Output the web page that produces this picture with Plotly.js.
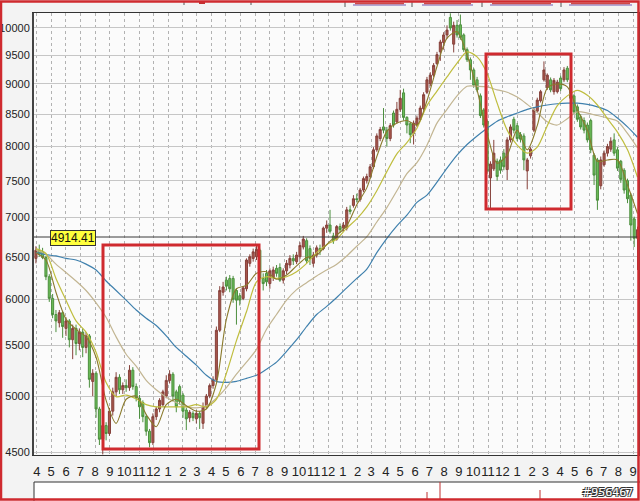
<!DOCTYPE html>
<html>
<head>
<meta charset="utf-8">
<script src="https://cdn.plot.ly/plotly-3.0.1.min.js"></script>
<style>
  html, body { margin: 0; padding: 0; background: #f3f3f3; }
  #chart { width: 640px; height: 501px; }
</style>
</head>
<body>
<div id="chart"></div>
<script>
// Weekly index candles, first week ending 1995-03-30, one bar per week
const firstWeek = '1995-03-30';

const weekOpen = [
  6480,6580,6560,6490,6260,6010,5830,5740,5850,5680,
  5760,5560,5680,5520,5640,5480,5600,5140,5220,4880,
  4610,4730,4660,4860,5040,5180,5060,5100,5080,5250,
  5090,4980,4940,4810,4680,4580,4810,4880,4920,5000,
  5150,5210,5040,5090,5010,4870,4800,4840,4790,4840,
  4750,4900,5000,5100,5160,5660,6080,6220,6240,6240,
  6100,6040,6010,6120,6420,6480,6500,6580,6240,6300,
  6180,6250,6360,6370,6220,6330,6400,6480,6440,6500,
  6620,6700,6600,6420,6520,6600,6600,6860,6900,6760,
  6720,6880,6860,6860,7100,7160,7250,7240,7370,7500,
  7560,7700,7950,8120,8300,8250,8120,8520,8380,8580,
  8850,8450,8350,8200,8330,8420,8590,8860,9000,9150,
  9350,9560,9730,9870,10200,9700,10050,10060,9870,9600,
  9420,9240,9070,8800,8570,8390,7540,7670,7780,7800,
  7900,7660,8100,8420,8320,8180,8160,7640,7860,8250,
  8550,8720,9070,8940,9070,8870,8870,9100,9070,9270,
  9020,8800,8620,8460,8400,8330,8400,7870,7800,7430,
  7730,7900,7960,8100,7950,7780,7650,7500,7300,6980,
  6730
];
const weekHigh = [
  6630,6650,6610,6510,6290,6060,5880,5880,5870,5800,
  5780,5720,5720,5680,5680,5640,5620,5260,5240,4900,
  4770,4760,4890,5080,5230,5210,5130,5160,5300,5280,
  5120,5010,4960,4830,4700,4840,4900,4980,5060,5200,
  5250,5230,5060,5110,5030,4890,4870,4860,4870,4860,
  4940,5020,5120,5190,5700,6150,6200,6260,6280,6270,
  6120,6070,6150,6480,6530,6600,6650,6600,6300,6340,
  6360,6380,6400,6420,6360,6460,6520,6530,6560,6680,
  6760,6730,6640,6560,6640,6650,6880,6960,7100,6800,
  6900,6920,6940,7140,7160,7300,7320,7400,7560,7600,
  7740,7990,8200,8300,8600,8300,8360,8560,8700,8900,
  8920,8470,8380,8400,8480,8640,8860,9120,9200,9360,
  9560,9780,9920,10050,10280,10120,10150,10256,9900,9640,
  9460,9270,9120,8840,8600,8420,7780,8100,7820,7850,
  7960,8140,8340,8460,8360,8220,8200,7830,7990,8610,
  8770,8900,9390,9180,9110,9100,9070,9140,9290,9310,
  9060,8830,8660,8500,8450,8370,8430,7900,7830,7850,
  7940,8040,8140,8200,7990,7800,7680,7530,7330,7010,
  6880
];
const weekLow = [
  6420,6500,6470,6220,5970,5790,5640,5690,5580,5600,
  5480,5360,5400,5450,5380,5420,5080,5000,4800,4560,
  4480,4600,4640,4820,5000,5020,5020,5040,5050,5060,
  4950,4790,4760,4640,4540,4560,4780,4850,4900,4980,
  5120,4950,4850,4920,4800,4690,4760,4770,4750,4700,
  4700,4880,4980,5070,5140,5640,6040,6100,6080,5960,
  5720,5930,5990,6090,6380,6440,6460,6200,6100,6150,
  6120,6210,6260,6200,6180,6290,6360,6400,6410,6470,
  6590,6420,6400,6380,6490,6520,6580,6800,6790,6660,
  6700,6800,6820,6830,7040,7130,7200,7210,7340,7460,
  7530,7670,7920,8080,8200,8000,8080,8290,8350,8540,
  8400,8200,8050,8030,8300,8390,8560,8830,8960,9120,
  9330,9400,9600,9800,9950,9550,9820,9780,9560,9380,
  9070,8940,8860,8440,8290,7600,7100,7640,7500,7600,
  7650,7510,8060,8200,8080,8060,7650,7380,7820,8220,
  8520,8690,9040,8900,8860,8820,8840,8880,9030,9030,
  8720,8500,8380,8260,8200,8060,7900,7440,7100,7380,
  7700,7850,7920,7860,7640,7470,7320,7190,6700,6620,
  6340
];
const weekClose = [
  6580,6530,6490,6260,6010,5830,5760,5850,5700,5760,
  5560,5680,5520,5640,5480,5600,5160,5220,4880,4610,
  4730,4660,4860,5040,5180,5060,5100,5080,5250,5090,
  4980,4900,4810,4680,4580,4810,4880,4960,5040,5150,
  5210,5000,4900,4950,4860,4790,4850,4800,4840,4800,
  4900,5000,5100,5160,5660,6100,6140,6150,6120,6000,
  5990,5990,6130,6460,6500,6560,6590,6240,6180,6200,
  6330,6340,6300,6220,6330,6420,6480,6450,6520,6640,
  6720,6450,6480,6520,6610,6580,6860,6900,6820,6700,
  6880,6840,6900,7100,7080,7250,7240,7370,7530,7560,
  7700,7950,8160,8260,8250,8120,8320,8330,8580,8760,
  8450,8330,8180,8360,8440,8600,8820,9070,9150,9320,
  9510,9740,9870,9960,10000,10050,9870,9820,9600,9420,
  9240,8980,8900,8480,8330,7640,7740,7900,7560,7650,
  7700,8100,8300,8250,8120,8110,7800,7800,7960,8570,
  8730,8870,9240,9150,8900,9060,9030,8920,9240,9070,
  8760,8540,8420,8300,8250,8100,7950,7580,7230,7800,
  7900,8000,8080,7900,7680,7520,7370,7250,6900,6730,
  6840
];

// Moving-average lines, one reading every third week
const maStep = 3;
const ma5 = [
  6550,6460,6080,5780,5670,5590,5380,4960,4750,4970,
  5000,4830,4720,4920,4970,4910,4860,4880,5120,5780,
  6120,6160,6300,6320,6230,6280,6390,6490,6520,6650,
  6770,6890,7170,7400,7850,8230,8360,8400,8330,8720,
  9300,9810,9930,9500,8900,8200,7750,7870,8250,7950,
  8320,8930,9000,8950,8570,8250,7780,7800,7800,7440,
  7050
];
const ma10 = [
  6600,6540,6240,5990,5760,5640,5430,5130,4995,5010,
  4975,4920,4900,4900,4900,4900,4920,4900,4970,5220,
  5550,5860,6200,6260,6240,6260,6320,6420,6550,6650,
  6720,6860,6980,7140,7360,7630,7890,8060,8280,8640,
  8880,9120,9360,9560,9470,9180,8680,8250,8020,7900,
  7990,8320,8640,8800,8890,8810,8650,8430,8220,7950,
  7550
];
const ma26 = [
  6583,6530,6410,6310,6210,6100,5960,5800,5590,5410,
  5290,5150,5060,4990,4940,4900,4890,4910,4980,5080,
  5210,5330,5460,5670,5830,5990,6110,6190,6270,6340,
  6410,6510,6630,6750,6940,7130,7360,7600,7760,8020,
  8360,8580,8800,8960,8960,8950,8900,8860,8780,8660,
  8530,8380,8330,8430,8540,8520,8480,8440,8390,8200,
  7980
];
const ma52 = [
  6550,6525,6510,6480,6460,6410,6340,6210,6100,5990,
  5880,5790,5710,5600,5480,5390,5300,5200,5140,5130,
  5140,5170,5200,5260,5330,5440,5560,5700,5830,5920,
  6020,6130,6240,6350,6550,6730,6890,7030,7200,7300,
  7480,7680,7870,8030,8160,8280,8390,8460,8520,8580,
  8620,8650,8670,8680,8680,8660,8620,8560,8440,8300,
  8140
];

// Month ticks along the bottom
const monthTickDates = [
  '1995-04-01','1995-05-01','1995-06-01','1995-07-01','1995-08-01','1995-09-01',
  '1995-10-01','1995-11-01','1995-12-01',
  '1996-01-01','1996-02-01','1996-03-01','1996-04-01','1996-05-01','1996-06-01',
  '1996-07-01','1996-08-01','1996-09-01','1996-10-01','1996-11-01','1996-12-01',
  '1997-01-01','1997-02-01','1997-03-01','1997-04-01','1997-05-01','1997-06-01',
  '1997-07-01','1997-08-01','1997-09-01','1997-10-01','1997-11-01','1997-12-01',
  '1998-01-01','1998-02-01','1998-03-01','1998-04-01','1998-05-01','1998-06-01',
  '1998-07-01','1998-08-01','1998-09-01'
];
const monthTickText = [
  '4','5','6','7','8','9','10','11','12',
  '1','2','3','4','5','6','7','8','9','10','11','12',
  '1','2','3','4','5','6','7','8','9','10','11','12',
  '1','2','3','4','5','6','7','8','9'
];

const priceTicks = [4500,5000,5500,6000,6500,7000,7500,8000,8500,9000,9500,10000];
const priceTickText = ['4500','5000','5500','6000','6500','7000','7500','8000','8500','9000','9500','10000'];

const markerPrice = '4914.41';

// calendar of week dates
function weekDates(start, n) {
  const out = [];
  const t0 = Date.parse(start + 'T00:00:00Z');
  for (let i = 0; i < n; i++) {
    out.push(new Date(t0 + i * 7 * 86400000).toISOString().slice(0, 10));
  }
  return out;
}
const weeks = weekDates(firstWeek, weekClose.length);
const maWeeks = weeks.filter((d, i) => i % maStep === 0);

const FONT = 'Liberation Sans, Arial, sans-serif';

const traces = [
  {
    type: 'candlestick',
    x: weeks, open: weekOpen, high: weekHigh, low: weekLow, close: weekClose,
    increasing: { line: { color: '#85403a', width: 1 }, fillcolor: '#a9564c' },
    decreasing: { line: { color: '#4c8f3e', width: 1 }, fillcolor: '#6cbd58' },
    whiskerwidth: 0,
    hoverinfo: 'skip'
  },
  { type: 'scatter', mode: 'lines', x: maWeeks, y: ma52,
    line: { color: '#3f80ad', width: 1.2, shape: 'spline', smoothing: 0.8 }, hoverinfo: 'skip' },
  { type: 'scatter', mode: 'lines', x: maWeeks, y: ma26,
    line: { color: '#c2b592', width: 1.2, shape: 'spline', smoothing: 0.8 }, hoverinfo: 'skip' },
  { type: 'scatter', mode: 'lines', x: maWeeks, y: ma10,
    line: { color: '#bfbd3e', width: 1.2, shape: 'spline', smoothing: 0.8 }, hoverinfo: 'skip' },
  { type: 'scatter', mode: 'lines', x: maWeeks, y: ma5,
    line: { color: '#8a7a2c', width: 1.1, shape: 'spline', smoothing: 0.8 }, hoverinfo: 'skip' }
];

// helpers for paper-space decoration (plot area 34..638 x 13..455 px)
const PX = px => (px - 34) / 604;
const PY = py => (455 - py) / 442;

const RED = '#cf2a2f';
const shapes = [
  // price cursor line
  { type: 'line', xref: 'paper', yref: 'paper', x0: 0, x1: 1, y0: PY(237), y1: PY(237),
    line: { color: '#3a3a3a', width: 1 } },
  // highlighted ranges
  { type: 'rect', xref: 'paper', yref: 'paper', x0: PX(103), x1: PX(259), y0: PY(449), y1: PY(245),
    line: { color: RED, width: 3 } },
  { type: 'rect', xref: 'paper', yref: 'paper', x0: PX(486), x1: PX(571), y0: PY(209), y1: PY(54),
    line: { color: RED, width: 3 } },
  // lower pane
  { type: 'rect', xref: 'paper', yref: 'paper', x0: 0, x1: PX(641), y0: PY(503), y1: PY(482),
    fillcolor: '#ffffff', line: { width: 0 }, layer: 'below' },
  { type: 'line', xref: 'paper', yref: 'paper', x0: 0, x1: PX(641), y0: PY(482), y1: PY(482),
    line: { color: '#333333', width: 1 } },
  { type: 'line', xref: 'paper', yref: 'paper', x0: 0, x1: 0, y0: PY(482), y1: PY(503),
    line: { color: '#333333', width: 1 } },
  { type: 'line', xref: 'paper', yref: 'paper', x0: PX(440), x1: PX(440), y0: PY(482), y1: PY(500),
    line: { color: '#c03030', width: 1 } },
  { type: 'line', xref: 'paper', yref: 'paper', x0: PX(427), x1: PX(427), y0: PY(492), y1: PY(500),
    line: { color: '#c03030', width: 1 } },
  { type: 'line', xref: 'paper', yref: 'paper', x0: PX(540), x1: PX(540), y0: PY(490), y1: PY(500),
    line: { color: '#c03030', width: 1 } },
  // header strip
  { type: 'line', xref: 'paper', yref: 'paper', x0: PX(353), x1: PX(406), y0: PY(5), y1: PY(5), line: { color: '#9c8cc8', width: 1.5 } },
  { type: 'line', xref: 'paper', yref: 'paper', x0: PX(422), x1: PX(473), y0: PY(5), y1: PY(5), line: { color: '#9c8cc8', width: 1.5 } },
  { type: 'line', xref: 'paper', yref: 'paper', x0: PX(490), x1: PX(553), y0: PY(5), y1: PY(5), line: { color: '#9c8cc8', width: 1.5 } },
  { type: 'line', xref: 'paper', yref: 'paper', x0: PX(569), x1: PX(632), y0: PY(5), y1: PY(5), line: { color: '#9c8cc8', width: 1.5 } },
  { type: 'line', xref: 'paper', yref: 'paper', x0: PX(355), x1: PX(404), y0: PY(3.5), y1: PY(3.5), line: { color: '#d04848', width: 1.5 } },
  { type: 'line', xref: 'paper', yref: 'paper', x0: PX(424), x1: PX(471), y0: PY(3.5), y1: PY(3.5), line: { color: '#d04848', width: 1.5 } },
  { type: 'line', xref: 'paper', yref: 'paper', x0: PX(492), x1: PX(551), y0: PY(3.5), y1: PY(3.5), line: { color: '#d04848', width: 1.5 } },
  { type: 'line', xref: 'paper', yref: 'paper', x0: PX(571), x1: PX(630), y0: PY(3.5), y1: PY(3.5), line: { color: '#d04848', width: 1.5 } },
  { type: 'line', xref: 'paper', yref: 'paper', x0: PX(345), x1: PX(345), y0: PY(1), y1: PY(7), line: { color: '#555', width: 1 } },
  { type: 'line', xref: 'paper', yref: 'paper', x0: PX(412), x1: PX(412), y0: PY(1), y1: PY(7), line: { color: '#555', width: 1 } },
  { type: 'line', xref: 'paper', yref: 'paper', x0: PX(482), x1: PX(482), y0: PY(1), y1: PY(7), line: { color: '#555', width: 1 } },
  { type: 'line', xref: 'paper', yref: 'paper', x0: PX(561), x1: PX(561), y0: PY(1), y1: PY(7), line: { color: '#555', width: 1 } },
  { type: 'line', xref: 'paper', yref: 'paper', x0: PX(184), x1: PX(184), y0: PY(1), y1: PY(5), line: { color: '#555', width: 1 } },
  { type: 'line', xref: 'paper', yref: 'paper', x0: PX(251), x1: PX(251), y0: PY(1), y1: PY(5), line: { color: '#555', width: 1 } },
  { type: 'line', xref: 'paper', yref: 'paper', x0: PX(199), x1: PX(205), y0: PY(2.5), y1: PY(2.5), line: { color: '#c03030', width: 3 } },
  // outer frame
  { type: 'rect', xref: 'paper', yref: 'paper', x0: PX(1), x1: PX(638.5), y0: PY(499.5), y1: PY(1.5),
    line: { color: RED, width: 2.5 } }
];

const annotations = [
  { xref: 'paper', yref: 'paper', x: PX(72.5), y: PY(237.5), xanchor: 'center', yanchor: 'middle',
    text: markerPrice, showarrow: false,
    bgcolor: '#ffff3c', bordercolor: '#333333', borderwidth: 1, borderpad: 0,
    font: { family: FONT, size: 12, color: '#111111' } },
  { xref: 'paper', yref: 'paper', x: PX(635), y: PY(493), xanchor: 'right', yanchor: 'middle',
    text: '#956467', showarrow: false,
    font: { family: 'DejaVu Sans, Arial', size: 11, color: '#ffffff',
            shadow: '1px 1px 0 #333, -1px -1px 0 #333, 1px -1px 0 #333, -1px 1px 0 #333' } }
];

const layout = {
  width: 640, height: 501,
  margin: { l: 34, r: 2, t: 13, b: 46, pad: 0 },
  paper_bgcolor: '#f3f3f3',
  plot_bgcolor: '#fbfbfb',
  showlegend: false,
  boxgap: 0.12,
  font: { family: FONT, color: '#222222' },
  xaxis: {
    type: 'date',
    range: ['1995-03-26', '1998-09-11'],
    tickmode: 'array', tickvals: monthTickDates, ticktext: monthTickText,
    tickangle: 0,
    ticks: '', ticklabelstandoff: 4,
    tickfont: { family: FONT, size: 13, color: '#222222' },
    showgrid: true, gridcolor: '#b2b2b2', griddash: 'dot', gridwidth: 1,
    showline: true, linecolor: '#333333', linewidth: 1, mirror: true,
    zeroline: false,
    rangeslider: { visible: false },
    fixedrange: true
  },
  yaxis: {
    type: 'log',
    range: [Math.log10(4475), Math.log10(10286)],
    tickmode: 'array', tickvals: priceTicks, ticktext: priceTickText,
    ticks: '', ticklabelstandoff: 0,
    tickfont: { family: FONT, size: 11, color: '#222222' },
    showgrid: true, gridcolor: '#c6c6c6', gridwidth: 1,
    showline: true, linecolor: '#444444', linewidth: 2, mirror: true,
    zeroline: false,
    fixedrange: true
  },
  shapes: shapes,
  annotations: annotations
};

Plotly.newPlot('chart', traces, layout, { staticPlot: true, displayModeBar: false });
</script>
</body>
</html>
